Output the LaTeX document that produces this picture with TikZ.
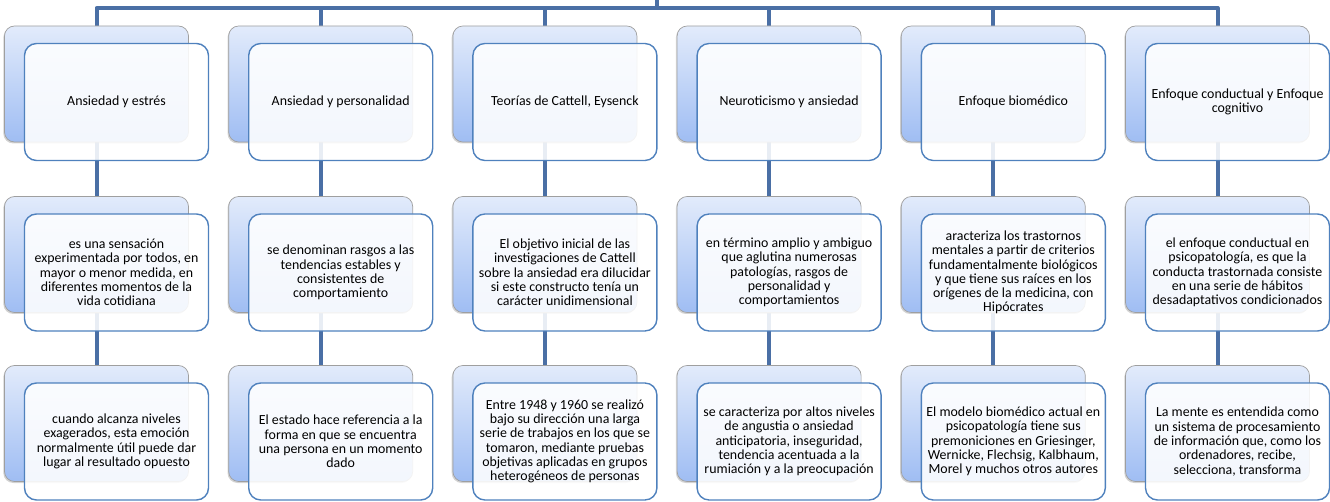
\documentclass[tikz,border=0pt]{standalone}
\usepackage{fontspec}
\setmainfont{Carlito}
\usepackage{tikz}
\usetikzlibrary{backgrounds,shadows}

\definecolor{fondoarriba}{HTML}{E2EBFB}
\definecolor{fondoabajo}{HTML}{9FBDF3}
\definecolor{bordeazul}{HTML}{4F81BD}
\definecolor{lineaazul}{HTML}{4A6FA5}

\tikzset{
  fondo/.style={rectangle, rounded corners=10pt, draw=gray!75, line width=0.7pt,
    top color=fondoarriba, bottom color=fondoabajo,
    minimum width=184pt, minimum height=116pt, inner sep=0pt,
    drop shadow={shadow xshift=-1.2pt, shadow yshift=-1.5pt, opacity=0.35}},
  frente/.style={rectangle, rounded corners=12pt, draw=bordeazul, line width=1.4pt,
    fill=white, fill opacity=0.88, text opacity=1,
    minimum width=184pt, minimum height=117pt, inner sep=0pt,
    align=center, font=\fontsize{13.9}{14.3}\selectfont},
  enlace/.style={draw=lineaazul, line width=4pt}
}

\begin{document}
\begin{tikzpicture}[x=1pt,y=-1pt]
    \useasboundingbox (0,0) rectangle (1330,502);

    % back boxes
    \foreach \i in {1,...,6} {
        \pgfmathsetmacro{\cx}{96.5+224.2*(\i-1)}
        \node[fondo] (t\i) at (\cx,84) {};
        \node[fondo] (d\i) at (\cx,254.5) {};
        \node[fondo] (e\i) at (\cx,423.5) {};
    }

    % row 1
    \node[frente] (t1f) at ([shift={(20,18)}]t1.center) {Ansiedad y estrés};
    \node[frente] (t2f) at ([shift={(20,18)}]t2.center) {Ansiedad y personalidad};
    \node[frente] (t3f) at ([shift={(20,18)}]t3.center) {Teorías de Cattell, Eysenck};
    \node[frente] (t4f) at ([shift={(20,18)}]t4.center) {Neuroticismo y ansiedad};
    \node[frente] (t5f) at ([shift={(20,18)}]t5.center) {Enfoque biomédico};
    \node[frente] (t6f) at ([shift={(20,18)}]t6.center) {Enfoque conductual y Enfoque\\cognitivo};

    % row 2
    \node[frente] (d1f) at ([shift={(20,18)}]d1.center) {es una sensación\\experimentada por todos, en\\mayor o menor medida, en\\diferentes momentos de la\\vida cotidiana};
    \node[frente] (d2f) at ([shift={(20,18)}]d2.center) {se denominan rasgos a las\\tendencias estables y\\consistentes de\\comportamiento};
    \node[frente] (d3f) at ([shift={(20,18)}]d3.center) {El objetivo inicial de las\\investigaciones de Cattell\\sobre la ansiedad era dilucidar\\si este constructo tenía un\\carácter unidimensional};
    \node[frente] (d4f) at ([shift={(20,18)}]d4.center) {en término amplio y ambiguo\\que aglutina numerosas\\patologías, rasgos de\\personalidad y\\comportamientos};
    \node[frente] (d5f) at ([shift={(20,18)}]d5.center) {aracteriza los trastornos\\mentales a partir de criterios\\fundamentalmente biológicos\\y que tiene sus raíces en los\\orígenes de la medicina, con\\Hipócrates};
    \node[frente] (d6f) at ([shift={(20,18)}]d6.center) {el enfoque conductual en\\psicopatología, es que la\\conducta trastornada consiste\\en una serie de hábitos\\desadaptativos condicionados};

    % row 3
    \node[frente] (e1f) at ([shift={(20,18)}]e1.center) {cuando alcanza niveles\\exagerados, esta emoción\\normalmente útil puede dar\\lugar al resultado opuesto};
    \node[frente] (e2f) at ([shift={(20,18)}]e2.center) {El estado hace referencia a la\\forma en que se encuentra\\una persona en un momento\\dado};
    \node[frente] (e3f) at ([shift={(20,18)}]e3.center) {Entre 1948 y 1960 se realizó\\bajo su dirección una larga\\serie de trabajos en los que se\\tomaron, mediante pruebas\\objetivas aplicadas en grupos\\heterogéneos de personas};
    \node[frente] (e4f) at ([shift={(20,18)}]e4.center) {se caracteriza por altos niveles\\de angustia o ansiedad\\anticipatoria, inseguridad,\\tendencia acentuada a la\\rumiación y a la preocupación};
    \node[frente] (e5f) at ([shift={(20,18)}]e5.center) {El modelo biomédico actual en\\psicopatología tiene sus\\premoniciones en Griesinger,\\Wernicke, Flechsig, Kalbhaum,\\Morel y muchos otros autores};
    \node[frente] (e6f) at ([shift={(20,18)}]e6.center) {La mente es entendida como\\un sistema de procesamiento\\de información que, como los\\ordenadores, recibe,\\selecciona, transforma};

    % connectors
    \coordinate (raiz) at (657,0);
    \coordinate (barra) at (657,8);
    \begin{pgfonlayer}{background}
        \draw[enlace] (raiz) -- (barra);
        \foreach \i in {1,...,6} {
            \draw[enlace,line join=round] (barra) -| (t\i.north);
            \draw[enlace] (t\i.south) -- (d\i.north);
            \draw[enlace] (d\i.south) -- (e\i.north);
        }
    \end{pgfonlayer}
\end{tikzpicture}
\end{document}
